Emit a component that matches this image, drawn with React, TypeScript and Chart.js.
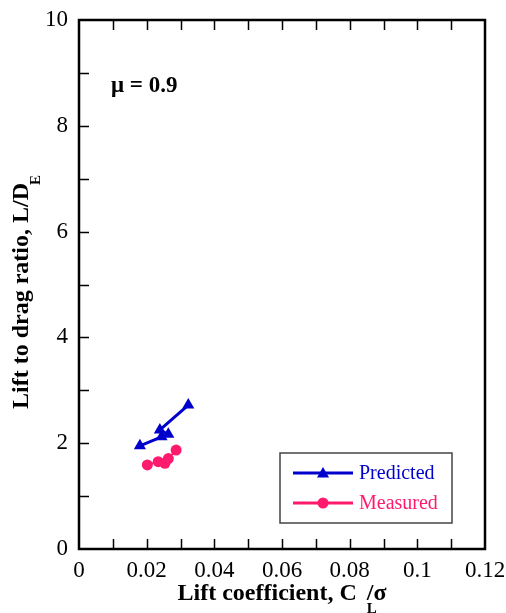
import React, { useEffect, useRef } from 'react';
import { Chart, registerables } from 'chart.js';
Chart.register(...registerables);

// ---- data ----
const predictedX = [0.018, 0.0244, 0.0264, 0.0239, 0.0323];
const predictedY = [1.95, 2.12, 2.17, 2.25, 2.72];
const measuredX = [0.0202, 0.0234, 0.0254, 0.0264, 0.0287];
const measuredY = [1.59, 1.65, 1.62, 1.71, 1.87];
const xTickLabels = ['0', '0.02', '0.04', '0.06', '0.08', '0.1', '0.12'];
const yTickLabels = ['0', '2', '4', '6', '8', '10'];
const seriesNames = ['Predicted', 'Measured'];
const annotationText = 'μ = 0.9';
const xTitleParts = ['Lift coefficient, C', 'L', '/σ'];
const yTitleParts = ['Lift to drag ratio, L/D', 'E'];

const BLUE = '#0000cc';
const PINK = '#ff1a6e';
const SERIF = '"Liberation Serif", "Times New Roman", Times, serif';

function drawTriangle(ctx: CanvasRenderingContext2D, x: number, y: number, r: number, color: string) {
  ctx.beginPath();
  let rad = 0;
  for (let i = 0; i < 3; i++) {
    const px = x + Math.sin(rad) * r;
    const py = y - Math.cos(rad) * r;
    if (i === 0) ctx.moveTo(px, py); else ctx.lineTo(px, py);
    rad += (2 * Math.PI) / 3;
  }
  ctx.closePath();
  ctx.fillStyle = color;
  ctx.fill();
}

function drawCircle(ctx: CanvasRenderingContext2D, x: number, y: number, r: number, color: string) {
  ctx.beginPath();
  ctx.arc(x, y, r, 0, Math.PI * 2);
  ctx.fillStyle = color;
  ctx.fill();
}

const decorPlugin = {
  id: 'decor',
  afterDraw(chart: any) {
    const { ctx, chartArea: a, scales } = chart;
    const xs = scales.x;
    const ys = scales.y;
    ctx.save();
    // inward ticks
    ctx.strokeStyle = '#000';
    ctx.lineWidth = 1.5;
    ctx.beginPath();
    xs.ticks.forEach((t: any) => {
      const px = Math.round(xs.getPixelForValue(t.value)) + 0.5;
      if (px <= a.left + 2 || px >= a.right - 2) return;
      ctx.moveTo(px, a.bottom);
      ctx.lineTo(px, a.bottom - 10);
      ctx.moveTo(px, a.top);
      ctx.lineTo(px, a.top + 10);
    });
    ys.ticks.forEach((t: any) => {
      const py = Math.round(ys.getPixelForValue(t.value)) + 0.5;
      if (py <= a.top + 2 || py >= a.bottom - 2) return;
      ctx.moveTo(a.left, py);
      ctx.lineTo(a.left + 10, py);
    });
    ctx.stroke();
    // frame
    ctx.lineWidth = 2.5;
    ctx.strokeRect(a.left, a.top, a.right - a.left, a.bottom - a.top);

    // annotation
    ctx.fillStyle = '#000';
    ctx.font = `bold 23px ${SERIF}`;
    ctx.textAlign = 'left';
    ctx.textBaseline = 'alphabetic';
    ctx.fillText(annotationText, a.left + 32, a.top + 72);

    // x title
    const cx = (a.left + a.right) / 2;
    ctx.font = `bold 24px ${SERIF}`;
    const w1 = ctx.measureText(xTitleParts[0]).width;
    const w3 = ctx.measureText(xTitleParts[2]).width;
    const gap = 10;
    const total = w1 + gap + w3;
    const xStart = cx - total / 2;
    const xBase = 600;
    ctx.fillText(xTitleParts[0], xStart, xBase);
    ctx.fillText(xTitleParts[2], xStart + w1 + gap, xBase);
    ctx.font = `bold 15px ${SERIF}`;
    ctx.fillText(xTitleParts[1], xStart + w1 + gap, xBase + 13);

    // y title (rotated)
    ctx.save();
    ctx.translate(28, 292);
    ctx.rotate(-Math.PI / 2);
    ctx.font = `bold 24px ${SERIF}`;
    const yw1 = ctx.measureText(yTitleParts[0]).width;
    ctx.font = `bold 15px ${SERIF}`;
    const yw2 = ctx.measureText(yTitleParts[1]).width;
    const ytotal = yw1 + yw2 - 2;
    ctx.font = `bold 24px ${SERIF}`;
    ctx.fillText(yTitleParts[0], -ytotal / 2, 0);
    ctx.font = `bold 15px ${SERIF}`;
    ctx.fillText(yTitleParts[1], -ytotal / 2 + yw1 - 2, 12);
    ctx.restore();

    // legend
    const lx = 280, ly = 453, lw = 172, lh = 70;
    ctx.fillStyle = '#fff';
    ctx.fillRect(lx, ly, lw, lh);
    ctx.strokeStyle = '#444';
    ctx.lineWidth = 1.5;
    ctx.strokeRect(lx, ly, lw, lh);
    const colors = [BLUE, PINK];
    const rows = [473, 503];
    ctx.font = `20px ${SERIF}`;
    ctx.textBaseline = 'middle';
    rows.forEach((ry, i) => {
      ctx.strokeStyle = colors[i];
      ctx.lineWidth = 3;
      ctx.beginPath();
      ctx.moveTo(293, ry);
      ctx.lineTo(353, ry);
      ctx.stroke();
      if (i === 0) drawTriangle(ctx, 323, ry + 1, 7, colors[i]);
      else drawCircle(ctx, 323, ry, 5.5, colors[i]);
      ctx.fillStyle = colors[i];
      ctx.fillText(seriesNames[i], 359, ry + 1);
    });
    ctx.restore();
  },
};

export default function App() {
  const ref = useRef<HTMLCanvasElement | null>(null);
  useEffect(() => {
    if (!ref.current) return;
    const chart = new Chart(ref.current, {
      type: 'line',
      data: {
        datasets: [
          {
            label: seriesNames[0],
            data: predictedX.map((x, i) => ({ x, y: predictedY[i] })),
            borderColor: BLUE,
            backgroundColor: BLUE,
            borderWidth: 3,
            pointStyle: 'triangle',
            pointRadius: 7,
            pointBorderWidth: 0,
            tension: 0,
          },
          {
            label: seriesNames[1],
            data: measuredX.map((x, i) => ({ x, y: measuredY[i] })),
            borderColor: PINK,
            backgroundColor: PINK,
            borderWidth: 2,
            pointStyle: 'circle',
            pointRadius: 5.5,
            pointBorderWidth: 0,
            tension: 0,
          },
        ],
      },
      options: {
        responsive: false,
        animation: false,
        layout: { padding: { left: 0, top: 20, right: 21, bottom: 0 } },
        plugins: { legend: { display: false }, tooltip: { enabled: false }, title: { display: false } },
        scales: {
          x: {
            type: 'linear',
            min: 0,
            max: 0.12,
            grid: { display: false, drawTicks: false },
            border: { display: false },
            ticks: {
              stepSize: 0.01,
              autoSkip: false,
              maxRotation: 0,
              minRotation: 0,
              padding: 8,
              color: '#000',
              font: { family: SERIF, size: 23 },
              callback: (v: any) => {
                const i = Math.round(Number(v) * 100);
                return i % 2 === 0 ? xTickLabels[i / 2] : '';
              },
            },
            afterFit: (s: any) => { s.height = 64; s.paddingLeft = 0; s.paddingRight = 0; },
          },
          y: {
            type: 'linear',
            min: 0,
            max: 10,
            grid: { display: false, drawTicks: false },
            border: { display: false },
            ticks: {
              stepSize: 1,
              autoSkip: false,
              padding: 11,
              color: '#000',
              font: { family: SERIF, size: 23 },
              callback: (v: any) => {
                const i = Math.round(Number(v));
                return i % 2 === 0 ? yTickLabels[i / 2] : '';
              },
            },
            afterFit: (s: any) => { s.width = 79; s.paddingTop = 0; s.paddingBottom = 0; },
          },
        },
      },
      plugins: [decorPlugin],
    } as any);
    return () => chart.destroy();
  }, []);
  return (
    <div style={{ position: 'absolute', left: 0, top: 0, width: 506, height: 613, background: '#fff' }}>
      <canvas ref={ref} width={506} height={613} />
    </div>
  );
}
